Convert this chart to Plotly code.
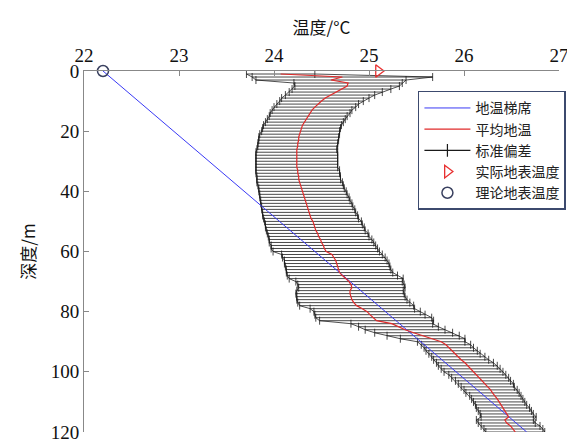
import plotly.graph_objects as go

# ---------------- data ----------------
depth = list(range(1, 121))

mean_temp = [
    24.07, 24.72, 24.60, 24.78, 24.77, 24.71, 24.65, 24.59, 24.54, 24.50,
    24.46, 24.43, 24.40, 24.38, 24.36, 24.34, 24.32, 24.30, 24.29, 24.28,
    24.27, 24.26, 24.26, 24.25, 24.25, 24.24, 24.24, 24.24, 24.24, 24.24,
    24.24, 24.24, 24.25, 24.25, 24.26, 24.26, 24.27, 24.28, 24.29, 24.30,
    24.31, 24.32, 24.33, 24.34, 24.35, 24.36, 24.37, 24.38, 24.39, 24.41,
    24.42, 24.43, 24.44, 24.46, 24.47, 24.49, 24.50, 24.52, 24.53, 24.55,
    24.61, 24.63, 24.65, 24.66, 24.67, 24.68, 24.69, 24.72, 24.76, 24.79,
    24.81, 24.82, 24.80, 24.80, 24.81, 24.82, 24.84, 24.87, 24.93, 24.98,
    25.01, 25.05, 25.08, 25.24, 25.31, 25.38, 25.47, 25.57, 25.67, 25.76,
    25.81, 25.84, 25.87, 25.90, 25.94, 25.97, 26.01, 26.04, 26.07, 26.10,
    26.14, 26.17, 26.20, 26.23, 26.25, 26.28, 26.30, 26.33, 26.35, 26.37,
    26.39, 26.41, 26.43, 26.45, 26.47, 26.43, 26.45, 26.49, 26.52, 26.54,
]

std_temp = [
    0.36, 0.95, 0.79, 0.57, 0.55, 0.52, 0.49, 0.47, 0.46, 0.44,
    0.43, 0.43, 0.42, 0.42, 0.41, 0.41, 0.41, 0.41, 0.41, 0.41,
    0.42, 0.42, 0.42, 0.42, 0.42, 0.42, 0.43, 0.43, 0.43, 0.43,
    0.43, 0.43, 0.44, 0.44, 0.44, 0.44, 0.45, 0.45, 0.45, 0.46,
    0.46, 0.47, 0.47, 0.48, 0.48, 0.49, 0.49, 0.50, 0.50, 0.51,
    0.51, 0.52, 0.52, 0.53, 0.53, 0.54, 0.55, 0.55, 0.56, 0.56,
    0.53, 0.54, 0.54, 0.55, 0.55, 0.55, 0.56, 0.58, 0.60, 0.56,
    0.56, 0.56, 0.56, 0.57, 0.57, 0.58, 0.59, 0.60, 0.55, 0.56,
    0.58, 0.61, 0.60, 0.43, 0.42, 0.42, 0.41, 0.38, 0.34, 0.25,
    0.26, 0.26, 0.27, 0.27, 0.28, 0.29, 0.30, 0.31, 0.31, 0.31,
    0.30, 0.30, 0.29, 0.29, 0.28, 0.28, 0.28, 0.27, 0.27, 0.27,
    0.27, 0.28, 0.28, 0.28, 0.29, 0.30, 0.30, 0.31, 0.31, 0.31,
]

gradient_temp = [22.2, 26.66]
gradient_depth = [0, 120]

actual_surface_temp = [25.1]
theory_surface_temp = [22.2]
surface_depth = [0]

x_ticks = [22, 23, 24, 25, 26, 27]
y_ticks = [0, 20, 40, 60, 80, 100, 120]

names = ["地温梯席", "平均地温", "标准偏差", "实际地表温度", "理论地表温度"]

# ---------------- figure ----------------
font_fam = "Liberation Serif, Noto Sans CJK SC, serif"
cjk_fam = "Noto Sans CJK SC, sans-serif"
left_env = [m - s for m, s in zip(mean_temp, std_temp)]
right_env = [m + s for m, s in zip(mean_temp, std_temp)]

fig = go.Figure()

# envelope lines joining the ends of the error bars
fig.add_trace(go.Scatter(x=left_env, y=depth, mode="lines",
                         line=dict(color="#222222", width=0.8),
                         showlegend=False, hoverinfo="skip"))
fig.add_trace(go.Scatter(x=right_env, y=depth, mode="lines",
                         line=dict(color="#222222", width=0.8),
                         showlegend=False, hoverinfo="skip"))

# horizontal error bars (standard deviation)
fig.add_trace(go.Scatter(
    x=mean_temp, y=depth, mode="markers",
    marker=dict(size=1, color="rgba(0,0,0,0)"),
    error_x=dict(type="data", array=std_temp, symmetric=True,
                 color="#1a1a1a", thickness=0.8, width=4),
    showlegend=False, hoverinfo="skip"))

# geothermal gradient
fig.add_trace(go.Scatter(x=gradient_temp, y=gradient_depth, mode="lines",
                         line=dict(color="#3a3af5", width=1),
                         name=names[0]))
# mean temperature
fig.add_trace(go.Scatter(x=mean_temp, y=depth, mode="lines",
                         line=dict(color="#e02a2a", width=1.2),
                         name=names[1]))
# legend entry for the standard deviation
fig.add_trace(go.Scatter(x=[None], y=[None], mode="lines+markers",
                         line=dict(color="#1a1a1a", width=1.2),
                         marker=dict(symbol="line-ns-open", size=9,
                                     line=dict(color="#1a1a1a", width=1.2)),
                         name=names[2]))
# actual surface temperature
fig.add_trace(go.Scatter(x=actual_surface_temp, y=surface_depth, mode="markers",
                         marker=dict(symbol="triangle-right-open", size=11,
                                     color="#e83030",
                                     line=dict(color="#e83030", width=1.3)),
                         cliponaxis=False, name=names[3]))
# theoretical surface temperature
fig.add_trace(go.Scatter(x=theory_surface_temp, y=surface_depth, mode="markers",
                         marker=dict(symbol="circle-open", size=11,
                                     color="#3a4160",
                                     line=dict(color="#3a4160", width=1.5)),
                         cliponaxis=False, name=names[4]))

# the page body adds an 8 px offset, so the figure is 8 px smaller
fig.update_layout(
    width=567, height=433,
    margin=dict(l=76, r=16, t=63, b=9, autoexpand=False),
    paper_bgcolor="white", plot_bgcolor="white",
    font=dict(family=font_fam, size=18, color="#111111"),
    showlegend=True,
    legend=dict(x=0.703, y=0.945, xanchor="left", yanchor="top",
                bgcolor="white", bordercolor="#3c4a6e", borderwidth=1.5,
                font=dict(family=cjk_fam, size=14, color="#222222"),
                tracegroupgap=0, itemwidth=46),
    xaxis=dict(
        side="top", range=[22, 27], tickmode="array", tickvals=x_ticks,
        ticks="inside", ticklen=5, tickcolor="#888888",
        showline=True, linecolor="#888888", linewidth=1, mirror=False,
        showgrid=False, zeroline=False, ticklabeloverflow="allow",
        tickfont=dict(family=font_fam, size=19),
        title=dict(text="温度/°C", standoff=6,
                   font=dict(family=cjk_fam, size=17)),
    ),
    yaxis=dict(
        range=[120, 0], tickmode="array", tickvals=y_ticks,
        ticks="inside", ticklen=5, tickcolor="#888888",
        showline=True, linecolor="#888888", linewidth=1, mirror=False,
        showgrid=False, zeroline=False, ticklabeloverflow="allow",
        tickfont=dict(family=font_fam, size=19),
        title=dict(text="深度/m", standoff=10,
                   font=dict(family=cjk_fam, size=17)),
    ),
)

fig.write_html("out.html")
